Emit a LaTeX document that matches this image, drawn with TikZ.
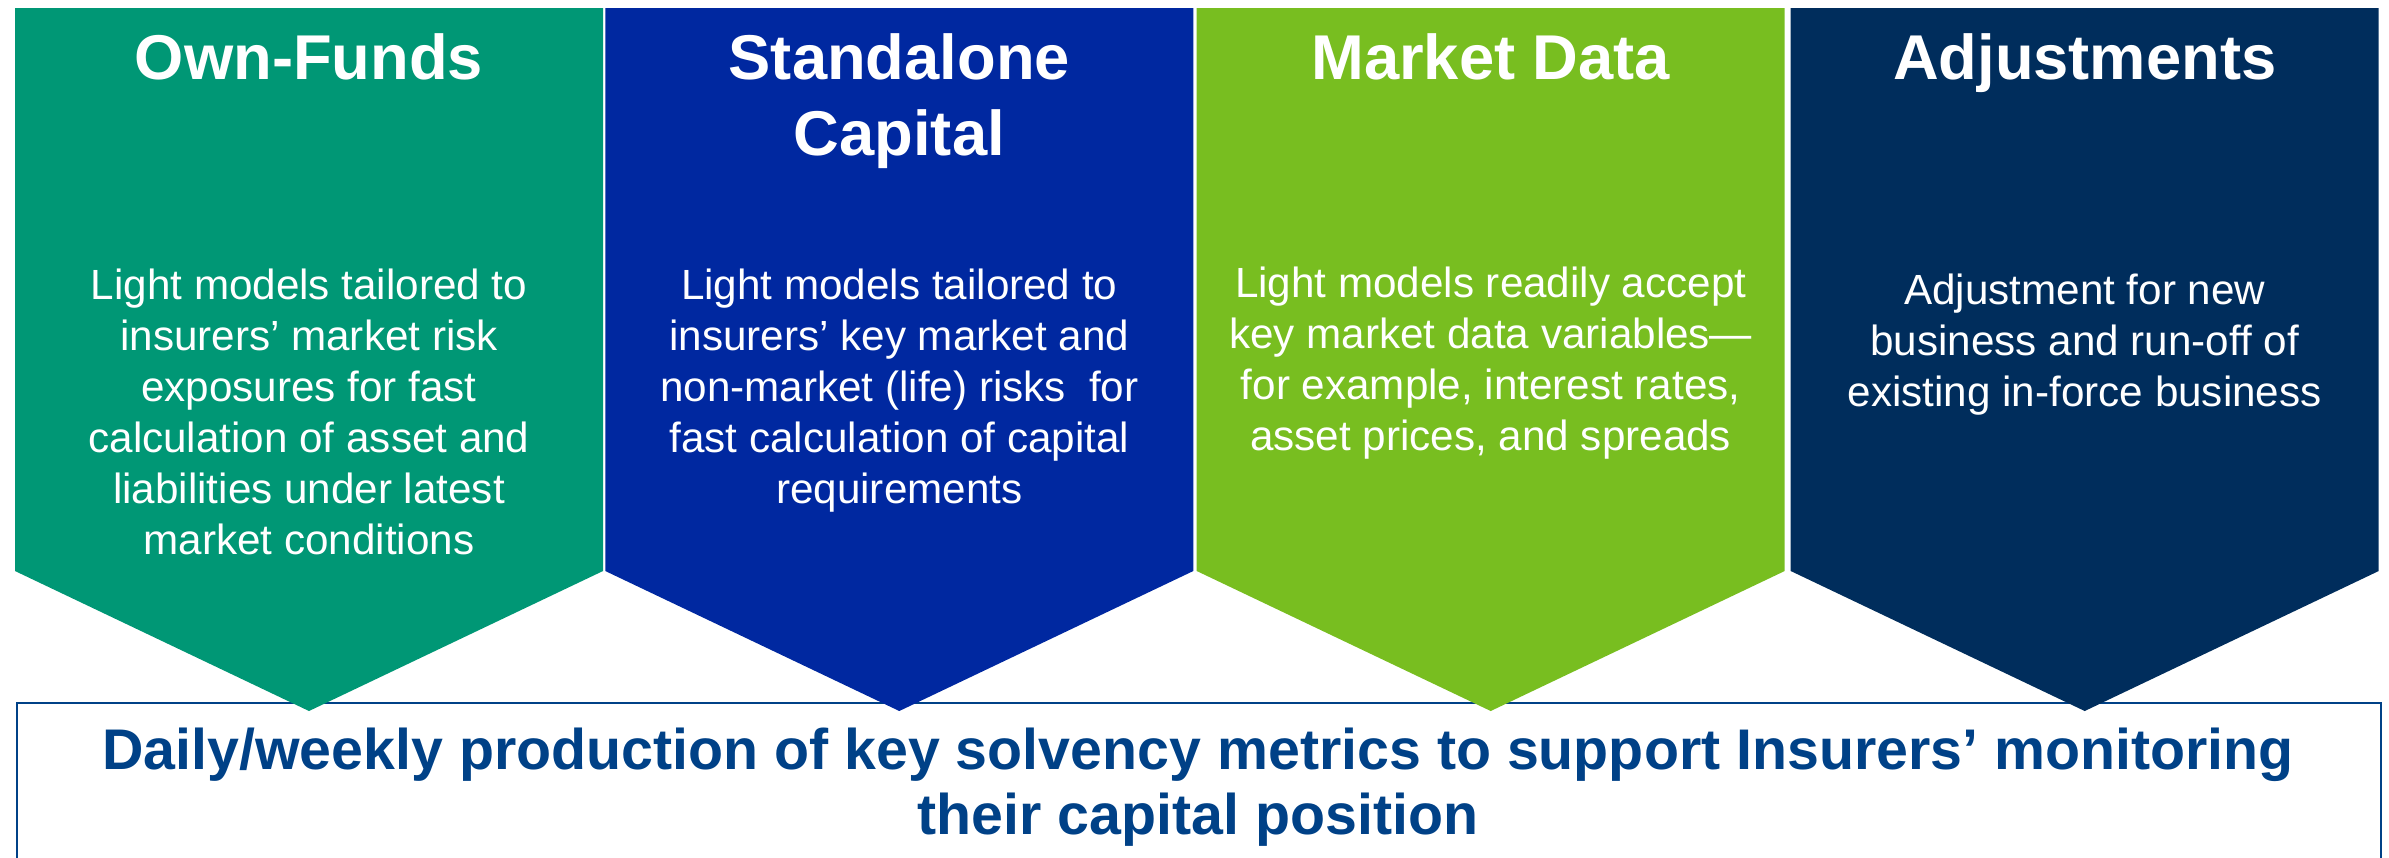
\documentclass[tikz,border=0pt]{standalone}
\usepackage{fontspec}
\setmainfont{Liberation Sans}
\definecolor{ownfunds}{RGB}{0,151,117}
\definecolor{standalone}{RGB}{0,40,160}
\definecolor{marketdata}{RGB}{120,190,32}
\definecolor{adjust}{RGB}{0,45,92}
\definecolor{solvency}{RGB}{0,65,135}
\tikzset{
    chevtitle/.style={anchor=north, inner sep=0pt, align=center, text=white,
        font=\fontsize{18}{21.6}\selectfont\bfseries},
    chevbody/.style={anchor=north, inner sep=0pt, align=center, text=white,
        font=\fontsize{12}{14.5}\selectfont},
}

\begin{document}
\begin{tikzpicture}[x=.01cm, y=-.01cm]
    \useasboundingbox(0, 0)rectangle(2389, 857);
    \draw[solvency, line width=.02cm](17, 862)|-(2381, 703)--(2381, 862);
    \foreach \l/\c in {15/ownfunds, 605.3/standalone, 1196.7/marketdata, 1790.7/adjust}
        \fill[\c](\l, 8)--(\l+588, 8)--(\l+588, 571)--(\l+294, 711)--(\l, 571)--cycle;
    \node[chevtitle](t1)at(309, 33){Own-Funds};
    \node[chevtitle](t2)at(899.3, 33){Standalone\\Capital};
    \node[chevtitle](t3)at(1490.7, 33){Market Data};
    \node[chevtitle](t4)at(2084.7, 33){Adjustments};
    \node[chevbody](b1)at(309, 268){Light models tailored to\\insurers’ market risk\\exposures for fast\\calculation of asset and\\liabilities under latest\\market conditions};
    \node[chevbody](b2)at(899.3, 268){Light models tailored to\\insurers’ key market and\\non-market (life) risks\ \ for\\fast calculation of capital\\requirements};
    \node[chevbody](b3)at(1490.7, 266){Light models readily accept\\key market data variables—\\for example, interest rates,\\asset prices, and spreads};
    \node[chevbody](b4)at(2084.7, 273){Adjustment for new\\business and run-off of\\existing in-force business};
    \node[anchor=north, inner sep=0pt, align=center, text=solvency, font=\fontsize{16.3}{18.6}\selectfont\bfseries](sum)at(1198, 727){Daily/weekly production of key solvency metrics to support Insurers’ monitoring\\their capital position};
\end{tikzpicture}
\end{document}
